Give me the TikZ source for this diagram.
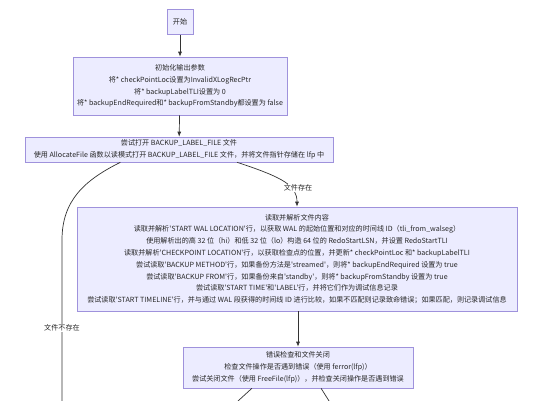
\documentclass[tikz,border=0pt]{standalone}
\usepackage{fontspec}
\setmainfont{Noto Sans CJK SC}[Ligatures=TeXOff]
\usetikzlibrary{arrows.meta,calc}
\definecolor{boxfill}{HTML}{ECECFF}
\definecolor{boxborder}{HTML}{9F92DC}
\definecolor{edgecol}{HTML}{333333}
\tikzset{
  box/.style={draw=boxborder, fill=boxfill, line width=0.6pt, align=center,
    font=\fontsize{7.1}{11.8}\selectfont, inner sep=0pt, text=black!85},
  edge/.style={draw=edgecol, line width=0.7pt, -{Latex[length=5pt,width=4pt]}},
  plain/.style={draw=edgecol, line width=0.7pt},
  elabel/.style={fill=white, inner sep=1pt, font=\fontsize{7.1}{9}\selectfont, text=black!85}
}
\begin{document}
\begin{tikzpicture}[x=1pt,y=-1pt]
\useasboundingbox (0,0) rectangle (542,400);
\clip (0,0) rectangle (542,400);
\fill[white] (0,0) rectangle (542,400);

\node[box, minimum width=26pt, minimum height=25pt] (start) at (180,22) {开始};
\node[box, minimum width=214pt, minimum height=58pt] (init) at (180,86)
  {初始化输出参数\\将* checkPointLoc设置为InvalidXLogRecPtr\\将* backupLabelTLI设置为 0\\将* backupEndRequired和* backupFromStandby都设置为 false};
\node[box, minimum width=308pt, minimum height=25pt] (open) at (179,149.5)
  {尝试打开 BACKUP\_LABEL\_FILE 文件\\使用 AllocateFile 函数以读模式打开 BACKUP\_LABEL\_FILE 文件，并将文件指针存储在 lfp 中};
\node[box, minimum width=440pt, minimum height=104pt] (parse) at (297,259)
  {读取并解析文件内容\\
   读取并解析'START WAL LOCATION'行，以获取 WAL 的起始位置和对应的时间线 ID（tli\_from\_walseg）\\
   使用解析出的高 32 位（hi）和低 32 位（lo）构造 64 位的 RedoStartLSN，并设置 RedoStartTLI\\
   读取并解析'CHECKPOINT LOCATION'行，以获取检查点的位置，并更新* checkPointLoc 和* backupLabelTLI\\
   尝试读取'BACKUP METHOD'行，如果备份方法是'streamed'，则将* backupEndRequired 设置为 true\\
   尝试读取'BACKUP FROM'行，如果备份来自'standby'，则将* backupFromStandby 设置为 true\\
   尝试读取'START TIME'和'LABEL'行，并将它们作为调试信息记录\\
   尝试读取'START TIMELINE'行，并与通过 WAL 段获得的时间线 ID 进行比较，如果不匹配则记录致命错误；如果匹配，则记录调试信息};
\node[box, minimum width=230pt, minimum height=41pt] (err) at (298,367.5)
  {错误检查和文件关闭\\检查文件操作是否遇到错误（使用 ferror(lfp)）\\尝试关闭文件（使用 FreeFile(lfp)），并检查关闭操作是否遇到错误};

\draw[edge] (start) -- (init);
\draw[edge] (init) -- (open);

\coordinate (o1) at ($(open.south west)!0.688!(open.south east)$);
\coordinate (o2) at ($(open.south west)!0.31!(open.south east)$);
\coordinate (pn) at (parse.north);
\draw[edge] (o1) .. controls (285,178) and (297,186) .. (pn);
\node[elabel] (lyes) at (298,188) {文件存在};

\coordinate (lc) at (62,240);
\coordinate (lend) at (62,420);
\draw[plain] (o2) .. controls (85,180) and (62,200) .. (lc) -- (lend);
\node[elabel] (lno) at (62,328) {文件不存在};

\draw[edge] (parse.south -| err.north) -- (err.north);

\coordinate (e1) at ($(err.south west)!0.30!(err.south east)$);
\coordinate (e2) at ($(err.south west)!0.60!(err.south east)$);
\coordinate (e1end) at (226,412);
\coordinate (e2end) at (336,412);
\draw[plain] (e1) -- (e1end);
\draw[plain] (e2) -- (e2end);
\end{tikzpicture}
\end{document}
